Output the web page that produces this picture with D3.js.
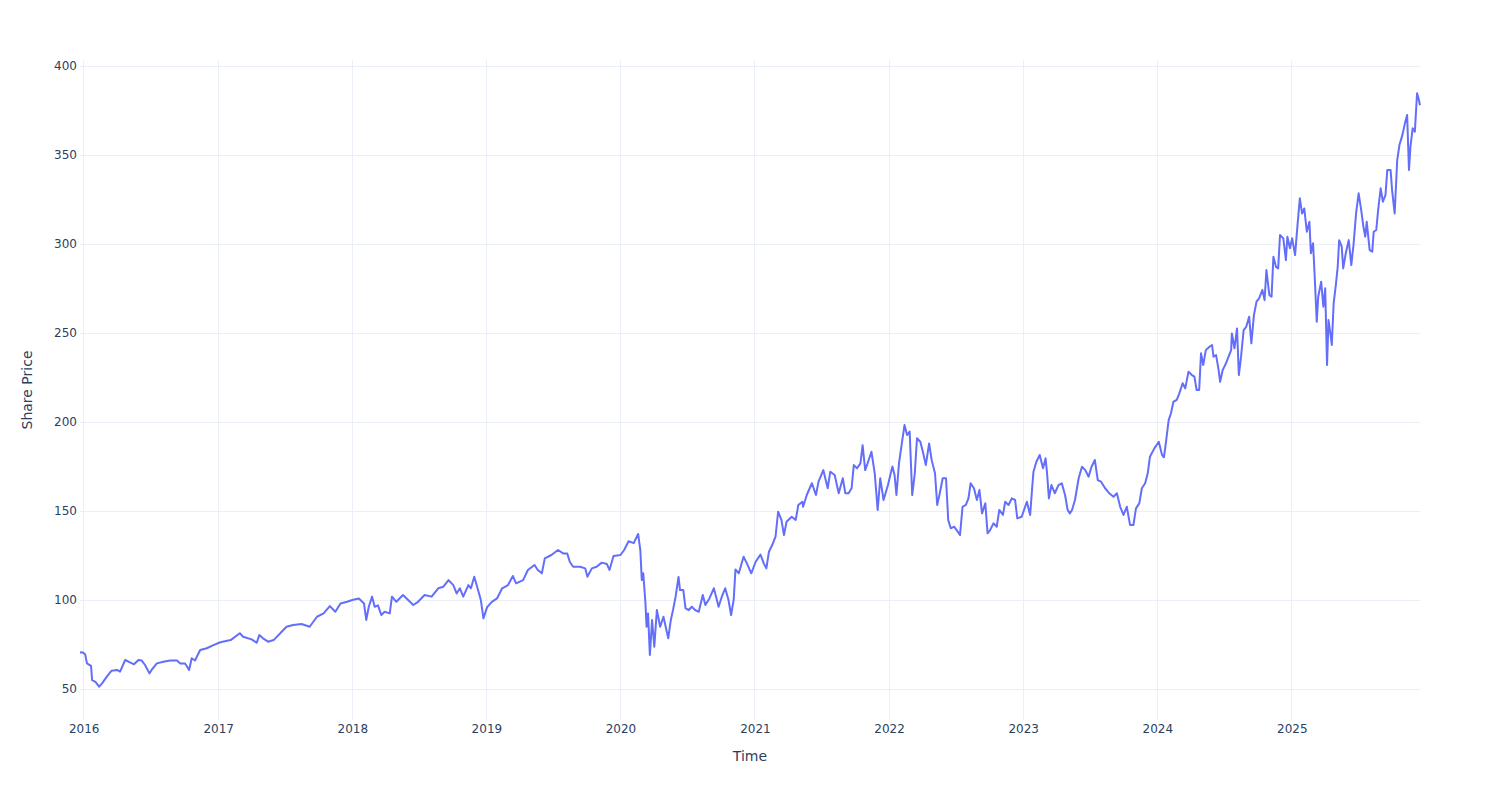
<!DOCTYPE html>
<html>
<head>
<meta charset="utf-8">
<script src="https://cdn.jsdelivr.net/npm/d3@7"></script>
<style>
  html, body { margin: 0; padding: 0; background: #fff; }
  svg { display: block; font-family: "DejaVu Sans", verdana, arial, sans-serif; }
</style>
</head>
<body>
<svg id="chart" width="1500" height="800"></svg>
<script>
const dates = [
"2015-12-22","2015-12-29","2016-01-05","2016-01-10","2016-01-21","2016-01-24","2016-02-02","2016-02-12","2016-02-20","2016-03-04",
"2016-03-17","2016-04-01","2016-04-09","2016-04-23","2016-05-06","2016-05-17","2016-05-29","2016-06-07","2016-06-16","2016-06-28",
"2016-07-04","2016-07-18","2016-08-05","2016-08-23","2016-09-11","2016-09-20","2016-10-03","2016-10-14","2016-10-21","2016-10-30",
"2016-11-13","2016-12-01","2016-12-19","2017-01-07","2017-02-04","2017-03-01","2017-03-10","2017-04-02","2017-04-16","2017-04-23",
"2017-05-03","2017-05-17","2017-06-01","2017-06-19","2017-07-06","2017-07-24","2017-08-16","2017-09-07","2017-09-27","2017-10-15",
"2017-11-01","2017-11-16","2017-11-30","2017-12-18","2018-01-01","2018-01-19","2018-02-02","2018-02-08","2018-02-15","2018-02-24",
"2018-03-03","2018-03-12","2018-03-21","2018-03-30","2018-04-13","2018-04-19","2018-05-01","2018-05-19","2018-06-02","2018-06-16",
"2018-06-29","2018-07-17","2018-08-05","2018-08-23","2018-09-06","2018-09-20","2018-10-03","2018-10-12","2018-10-21","2018-10-30",
"2018-11-13","2018-11-20","2018-11-29","2018-12-08","2018-12-17","2018-12-24","2019-01-03","2019-01-16","2019-01-30","2019-02-13",
"2019-03-01","2019-03-14","2019-03-23","2019-04-11","2019-04-24","2019-05-12","2019-05-21","2019-06-01","2019-06-09","2019-06-27",
"2019-07-15","2019-07-29","2019-08-09","2019-08-16","2019-08-25","2019-09-13","2019-09-27","2019-10-03","2019-10-15","2019-10-28",
"2019-11-11","2019-11-25","2019-12-02","2019-12-13","2020-01-01","2020-01-11","2020-01-23","2020-02-06","2020-02-18","2020-02-24",
"2020-02-28","2020-03-03","2020-03-09","2020-03-12","2020-03-16","2020-03-21","2020-03-27","2020-04-02","2020-04-09","2020-04-18",
"2020-04-27","2020-05-10","2020-05-17","2020-05-23","2020-05-30","2020-06-07","2020-06-11","2020-06-20","2020-06-26","2020-07-05",
"2020-07-13","2020-07-22","2020-08-01","2020-08-12","2020-08-19","2020-08-30","2020-09-11","2020-09-17","2020-09-24","2020-10-03",
"2020-10-12","2020-10-21","2020-10-28","2020-11-04","2020-11-09","2020-11-18","2020-12-01","2020-12-10","2020-12-22","2021-01-03",
"2021-01-16","2021-01-25","2021-02-01","2021-02-08","2021-02-17","2021-02-26","2021-03-05","2021-03-14","2021-03-21","2021-03-28",
"2021-04-11","2021-04-22","2021-04-29","2021-05-10","2021-05-12","2021-05-22","2021-06-05","2021-06-16","2021-06-23","2021-07-06",
"2021-07-18","2021-07-25","2021-08-06","2021-08-17","2021-08-28","2021-09-04","2021-09-13","2021-09-21","2021-09-27","2021-10-06",
"2021-10-15","2021-10-21","2021-10-28","2021-11-05","2021-11-14","2021-11-23","2021-12-01","2021-12-08","2021-12-17","2021-12-29",
"2022-01-10","2022-01-16","2022-01-21","2022-01-28","2022-02-06","2022-02-12","2022-02-19","2022-02-26","2022-03-05","2022-03-12",
"2022-03-18","2022-03-27","2022-04-04","2022-04-11","2022-04-20","2022-04-27","2022-05-06","2022-05-12","2022-05-19","2022-05-27",
"2022-06-05","2022-06-11","2022-06-18","2022-06-27","2022-07-04","2022-07-13","2022-07-20","2022-07-29","2022-08-05","2022-08-11",
"2022-08-20","2022-08-28","2022-09-04","2022-09-11","2022-09-20","2022-09-26","2022-10-03","2022-10-12","2022-10-21","2022-10-28",
"2022-11-07","2022-11-13","2022-11-22","2022-12-01","2022-12-10","2022-12-16","2022-12-28","2023-01-11","2023-01-20","2023-01-25",
"2023-01-29","2023-02-06","2023-02-15","2023-02-24","2023-03-03","2023-03-07","2023-03-12","2023-03-19","2023-03-28","2023-04-07",
"2023-04-16","2023-04-25","2023-05-02","2023-05-08","2023-05-14","2023-05-22","2023-06-01","2023-06-10","2023-06-19","2023-06-28",
"2023-07-06","2023-07-15","2023-07-23","2023-08-01","2023-08-12","2023-08-23","2023-09-04","2023-09-13","2023-09-22","2023-10-01",
"2023-10-10","2023-10-19","2023-10-28","2023-11-04","2023-11-13","2023-11-20","2023-11-29","2023-12-06","2023-12-12","2023-12-24",
"2024-01-05","2024-01-14","2024-01-19","2024-01-23","2024-02-01","2024-02-07","2024-02-14","2024-02-23","2024-03-01","2024-03-10",
"2024-03-17","2024-03-26","2024-04-04","2024-04-11","2024-04-17","2024-04-24","2024-04-29","2024-05-05","2024-05-12","2024-05-22",
"2024-05-29","2024-06-02","2024-06-09","2024-06-16","2024-06-20","2024-06-27","2024-07-06","2024-07-13","2024-07-20","2024-07-22",
"2024-07-29","2024-08-05","2024-08-10","2024-08-16","2024-08-23","2024-08-30","2024-09-07","2024-09-13","2024-09-20","2024-09-27",
"2024-10-04","2024-10-13","2024-10-19","2024-10-24","2024-11-01","2024-11-07","2024-11-12","2024-11-19","2024-11-25","2024-11-30",
"2024-12-09","2024-12-16","2024-12-20","2024-12-27","2025-01-02","2025-01-10","2025-01-17","2025-01-23","2025-01-29","2025-02-04",
"2025-02-11","2025-02-18","2025-02-22","2025-02-28","2025-03-04","2025-03-10","2025-03-14","2025-03-22","2025-03-28","2025-04-02",
"2025-04-07","2025-04-11","2025-04-16","2025-04-20","2025-04-25","2025-05-01","2025-05-06","2025-05-10","2025-05-17","2025-05-21",
"2025-05-28","2025-06-05","2025-06-12","2025-06-18","2025-06-25","2025-07-02","2025-07-09","2025-07-15","2025-07-20","2025-07-24",
"2025-08-01","2025-08-08","2025-08-12","2025-08-19","2025-08-24","2025-08-31","2025-09-06","2025-09-13","2025-09-18","2025-09-27",
"2025-10-01","2025-10-08","2025-10-15","2025-10-21","2025-10-29","2025-11-05","2025-11-11","2025-11-16","2025-11-20","2025-11-26",
"2025-12-02","2025-12-08","2025-12-12","2025-12-16"
];

const prices = [
70.5,70.6,69.5,64.4,63,55,54,51.3,53.2,57,
60.3,60.7,59.8,66.3,65,63.9,66.3,66,63.5,58.8,
60.7,64.4,65.3,66,66,64.4,64.4,60.7,67.3,66,
71.9,72.9,74.7,76.3,77.5,81.3,79.4,77.9,76,80.3,
78.5,76.6,77.5,81.3,85,86,86.5,85,90.6,92.5,
96.6,93.4,98.1,99,100,100.9,98.1,88.8,96.2,101.9,
96.2,97,91.6,93.4,92.5,101.9,99,102.8,100,97.2,
99,102.8,101.9,106.6,107.5,111.2,108.4,103.7,106.6,101.9,
108.4,106.6,113.1,106.6,100,89.7,96,99,100.9,106.6,
108.4,113.5,109.4,111.2,116.9,119.7,116.9,115,123.4,125.3,
128.1,126.2,126.2,121.5,118.7,118.7,117.8,113.1,117.8,118.7,
121,120.2,116.9,124.7,125.3,128.1,133,132,137.1,128.1,
111.2,115,98.1,85,92.5,69.1,88.8,73.8,94.4,85,
90.6,78.5,88.8,94.4,101.9,113,105.6,105.6,95.3,94.4,
96.2,94.4,93.4,102.8,97.2,100.9,106.6,102,96.2,102,
106.6,100,91.6,100,117.2,115,124.3,120.6,115,121.5,
125.5,120.6,117.8,127.1,130.9,135.6,149.6,145,136.5,144,
146.8,145,153.4,155.2,152.4,159,165.6,159,166.5,173,
162.8,172.1,170.2,160,168.4,160,160,162.8,175.8,174,
176.8,187,173,177.7,183.3,171.2,150.6,168.4,156.2,164.6,
175,170.2,159,176.8,189.9,198.3,192.7,194.6,159,171.2,
190.9,188.9,182.4,175.8,188,178.6,171.2,153.4,160,168.4,
168.4,144.9,140.3,141.2,139.3,136.5,152.4,153.4,157.1,165.6,
162.8,156.2,161.8,148.7,154.3,137.5,139.3,143.1,141.2,150.6,
147.8,155.2,153.4,157.1,156.2,145.9,146.8,155.2,147.8,161.8,
172.1,177.7,181.5,174,179.6,171.2,157.1,164.6,160,164.6,
165.6,159,150.6,148.7,150.6,156.2,168.4,174.9,173,169.3,
174.9,178.7,167.4,166.5,162.8,160,158,160,152.4,147.8,
152.4,142.1,142.1,151.5,154.3,162.8,165.6,171.2,180.5,185.2,
188.9,181.5,180.2,186.1,201.1,204.8,211.4,212.4,216.1,221.8,
218.9,228.3,226.4,225.5,218,218,238.6,232,240.4,242.3,
243.3,236.7,237.6,229.2,222.6,229.2,233,236.7,240.4,249.8,
241.4,252.6,226.4,236.7,251.7,253.5,259.2,244.2,260.1,267.6,
269.5,274.2,268.5,285.4,271.3,270.4,292.9,287.2,286.3,305.1,
303.2,291,304.1,297.6,303.2,293.8,311.6,325.7,317.2,320,
306.9,312.5,294.8,300.4,283.5,256.4,270.4,278.8,264.8,275.1,
232,257.3,249.8,243.3,266.7,277,287.2,302.2,298.5,286.3,
294.8,302.2,288.2,299.4,317.2,328.5,319.1,309.7,304.1,312.5,
296.6,295.7,306.9,307.9,319.1,331.3,323.8,327.5,341.6,341.6,
330.3,317.2,347.2,355.6,361.2,367.8,372.5,341.6,354.7,365,
363.1,384.7,381.9,378
];

const yTicks = [50, 100, 150, 200, 250, 300, 350, 400];
const xTickYears = ["2016","2017","2018","2019","2020","2021","2022","2023","2024","2025"];
const xTitle = "Time";
const yTitle = "Share Price";

const W = 1500, H = 800;
const margin = {left: 80, right: 80, top: 60, bottom: 80};
const parse = d3.timeParse("%Y-%m-%d");
const data = dates.map((d, i) => ({date: parse(d), value: prices[i]}));
const FONT = '"DejaVu Sans", verdana, arial, sans-serif';

const svg = d3.select("#chart");
const x = d3.scaleTime()
  .domain(d3.extent(data, d => d.date))
  .range([margin.left, W - margin.right]);
const y = d3.scaleLinear()
  .domain([32.6, 403.4])
  .range([H - margin.bottom, margin.top]);

const textColor = "#2a3f5f";
const gridColor = "#ebf0f8";

// grid
const xTickDates = xTickYears.map(s => parse(s + "-01-01"));
svg.append("g").selectAll("line").data(xTickDates).join("line")
  .attr("x1", d => x(d)).attr("x2", d => x(d))
  .attr("y1", margin.top).attr("y2", H - margin.bottom)
  .attr("stroke", gridColor).attr("stroke-width", 1)
  .attr("shape-rendering", "crispEdges");
svg.append("g").selectAll("line").data(yTicks).join("line")
  .attr("x1", margin.left).attr("x2", W - margin.right)
  .attr("y1", d => y(d)).attr("y2", d => y(d))
  .attr("stroke", gridColor).attr("stroke-width", 1)
  .attr("shape-rendering", "crispEdges");

// axes (labels only, Plotly style)
const xAxis = d3.axisBottom(x).tickValues(xTickDates).tickFormat(d3.timeFormat("%Y")).tickSize(0).tickPadding(4);
const gx = svg.append("g").attr("transform", `translate(0,${H - margin.bottom})`).call(xAxis);
gx.select(".domain").remove();
gx.selectAll("text").attr("fill", textColor).style("font-size", "12px").style("font-family", FONT);

const yAxis = d3.axisLeft(y).tickValues(yTicks).tickSize(0).tickPadding(3);
const gy = svg.append("g").attr("transform", `translate(${margin.left},0)`).call(yAxis);
gy.select(".domain").remove();
gy.selectAll("text").attr("fill", textColor).style("font-size", "12px").style("font-family", FONT);

// line
const line = d3.line().x(d => x(d.date)).y(d => y(d.value));
svg.append("path").datum(data)
  .attr("d", line)
  .attr("fill", "none")
  .attr("stroke", "#636efa")
  .attr("stroke-width", 2)
  .attr("stroke-linejoin", "round");

// titles
svg.append("text")
  .attr("x", (margin.left + W - margin.right) / 2)
  .attr("y", 761)
  .attr("text-anchor", "middle")
  .attr("fill", textColor)
  .style("font-size", "14px")
  .style("font-family", FONT)
  .text(xTitle);
svg.append("text")
  .attr("transform", `translate(32,${(margin.top + H - margin.bottom) / 2}) rotate(-90)`)
  .attr("text-anchor", "middle")
  .attr("fill", textColor)
  .style("font-size", "14px")
  .style("font-family", FONT)
  .text(yTitle);
</script>
</body>
</html>
